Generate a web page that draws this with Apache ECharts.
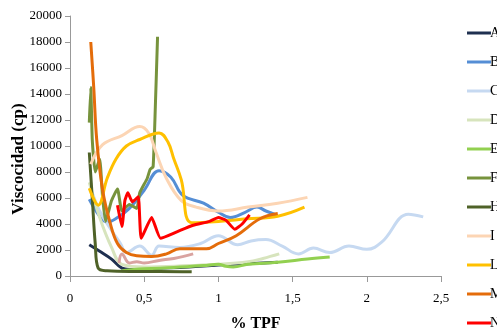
<!DOCTYPE html>
<html>
<head>
<meta charset="utf-8">
<script src="https://cdn.jsdelivr.net/npm/echarts@6/dist/echarts.min.js"></script>
<style>
  html, body { margin: 0; padding: 0; background: #fff; }
  #chart { width: 497px; height: 330px; }
</style>
</head>
<body>
<div id="chart"></div>
<script>
// legend names (cut off at the right edge in the original)
var names = ['A', 'B', 'C', 'D', 'E', 'F', 'H', 'I', 'L', 'M', 'N', 'O'];
var colors = ['#1f3050', '#558ed5', '#c6d9f1', '#d7e4bd', '#92d050', '#77933c',
              '#4f6228', '#fcd5b4', '#ffc000', '#e46c0a', '#ff0000', '#d9a3a0'];

// [% TPF, viscosidad]
var serieA = [[0.13, 2400], [0.2, 1900], [0.28, 1300], [0.35, 600], [0.4, 500], [0.6, 600],
              [0.8, 700], [1.0, 850], [1.2, 950], [1.4, 1050]];
var serieB = [[0.13, 5900], [0.2, 4600], [0.25, 4150], [0.32, 4500], [0.4, 5200], [0.5, 6600],
              [0.6, 8100], [0.68, 7600], [0.76, 6200], [0.9, 5600], [1.0, 4900], [1.08, 4500],
              [1.18, 4900], [1.26, 5300], [1.32, 5000], [1.39, 4700]];
var serieC = [[0.15, 6400], [0.2, 5000], [0.28, 3500], [0.34, 2500], [0.38, 1800], [0.47, 2300],
              [0.55, 1600], [0.6, 2300], [0.74, 2200], [0.88, 2500], [1.0, 3100], [1.13, 2400],
              [1.22, 2700], [1.32, 2800], [1.43, 2300], [1.54, 1700], [1.64, 2150], [1.75, 1800],
              [1.88, 2300], [2.0, 2050], [2.1, 2600], [2.28, 4750], [2.38, 4550]];
var serieD = [[0.13, 7200], [0.2, 4500], [0.28, 2200], [0.35, 900], [0.5, 700], [0.8, 800],
              [1.0, 900], [1.2, 1100], [1.3, 1350], [1.41, 1700]];
var serieE = [[0.35, 400], [0.5, 550], [0.7, 650], [0.9, 800], [1.0, 900], [1.05, 750],
              [1.1, 700], [1.2, 900], [1.4, 1050], [1.6, 1300], [1.75, 1460]];
var serieF = [[0.13, 11800], [0.14, 14500], [0.15, 10500], [0.17, 8000], [0.2, 9000], [0.22, 6000],
              [0.24, 4200], [0.28, 5800], [0.32, 6700], [0.35, 5000], [0.4, 5500], [0.45, 5200],
              [0.47, 6400], [0.52, 7500], [0.54, 8200], [0.56, 8400], [0.575, 13000], [0.59, 18400]];
var serieH = [[0.13, 9500], [0.15, 6000], [0.17, 2500], [0.19, 600], [0.25, 400], [0.4, 350],
              [0.6, 350], [0.82, 320]];
var serieI = [[0.14, 8600], [0.22, 10100], [0.35, 10800], [0.47, 11500], [0.53, 11000],
              [0.58, 9500], [0.65, 7500], [0.75, 5800], [0.85, 5300], [1.0, 5000], [1.2, 5300],
              [1.4, 5600], [1.6, 6050]];
var serieL = [[0.13, 6750], [0.19, 5450], [0.25, 7500], [0.31, 9000], [0.38, 10000], [0.47, 10500],
              [0.6, 11000], [0.66, 10300], [0.7, 9000], [0.75, 7400], [0.82, 4100], [1.0, 4200],
              [1.19, 4400], [1.4, 4600], [1.58, 5300]];
var serieM = [[0.14, 18000], [0.16, 14500], [0.18, 10500], [0.22, 6600], [0.27, 4100], [0.32, 2500],
              [0.38, 1800], [0.45, 1550], [0.55, 1500], [0.65, 1700], [0.74, 2100], [0.92, 2100],
              [1.0, 2500], [1.12, 3100], [1.28, 4400], [1.4, 4800]];
var serieN = [[0.32, 5450], [0.35, 3800], [0.37, 5800], [0.39, 6400], [0.42, 5700], [0.46, 6100],
              [0.48, 2900], [0.55, 4500], [0.61, 2900], [0.72, 3400], [0.83, 3900], [0.94, 4200],
              [1.0, 4500], [1.05, 4300], [1.11, 3600], [1.16, 4000], [1.21, 4700]];
var serieO = [[0.33, 1000], [0.35, 1700], [0.4, 1000], [0.45, 1100], [0.5, 1000], [0.6, 1200],
              [0.7, 1350], [0.83, 1700]];

var allData = [serieA, serieB, serieC, serieD, serieE, serieF, serieH, serieI, serieL, serieM, serieN, serieO];
var jagged = { 'F': true, 'N': true };

var chart = echarts.init(document.getElementById('chart'));

var series = names.map(function (n, i) {
  return {
    name: n,
    type: 'line',
    data: allData[i],
    showSymbol: false,
    smooth: jagged[n] ? 0.15 : 0.4,
    lineStyle: { color: colors[i], width: 3 },
    itemStyle: { color: colors[i] },
    z: i === 10 ? 5 : 2
  };
});

var option = {
  animation: false,
  textStyle: { fontFamily: 'Liberation Serif' },
  grid: { left: 70, right: 56, top: 16, bottom: 54, outerBoundsMode: 'none' },
  legend: {
    orient: 'vertical',
    left: 467,
    top: 26,
    padding: 0,
    itemWidth: 24,
    itemHeight: 3,
    itemGap: 15,
    icon: 'rect',
    data: names,
    textStyle: { fontFamily: 'Liberation Serif', fontSize: 14, color: '#000', padding: [0, 0, 0, -6] }
  },
  xAxis: {
    type: 'value',
    min: 0,
    max: 2.5,
    interval: 0.5,
    name: '% TPF',
    nameLocation: 'middle',
    nameGap: 40,
    nameTextStyle: { fontFamily: 'Liberation Serif', fontSize: 16, fontWeight: 'bold', color: '#000' },
    axisLine: { lineStyle: { color: '#999' } },
    axisTick: { show: true, length: 6, lineStyle: { color: '#999' } },
    splitLine: { show: false },
    axisLabel: {
      color: '#000', fontSize: 13, margin: 16,
      formatter: function (v) { return String(v).replace('.', ','); }
    }
  },
  yAxis: {
    type: 'value',
    min: 0,
    max: 20000,
    interval: 2000,
    name: 'Viscocidad (cp)',
    nameLocation: 'middle',
    nameGap: 43,
    nameMoveOverlap: false,
    nameTextStyle: {
      fontFamily: 'Liberation Serif', fontSize: 17, fontWeight: 'bold', color: '#000',
      padding: [0, 26, 0, 0]
    },
    axisLine: { show: true, lineStyle: { color: '#999' } },
    axisTick: { show: true, length: 5, lineStyle: { color: '#999' } },
    splitLine: { show: false },
    axisLabel: {
      color: '#000', fontSize: 13, margin: 8,
      formatter: function (v) { return String(v); }
    }
  },
  series: series
};

chart.setOption(option);
</script>
</body>
</html>
